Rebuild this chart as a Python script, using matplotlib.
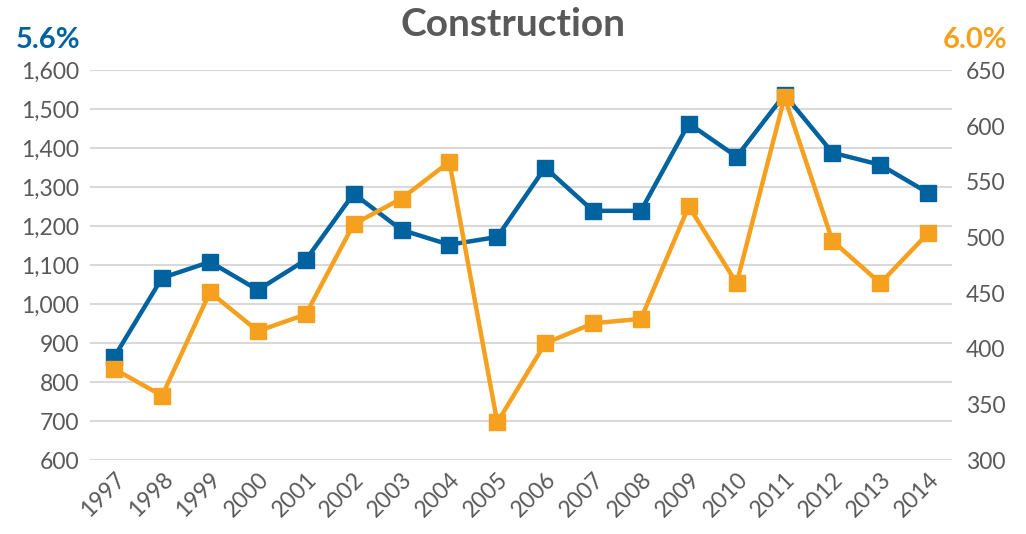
import numpy as np
from matplotlib import pyplot as plt
from matplotlib.ticker import FuncFormatter

plt.rcParams['font.family'] = ['Lato', 'DejaVu Sans']

years = ['1997', '1998', '1999', '2000', '2001', '2002', '2003', '2004', '2005',
         '2006', '2007', '2008', '2009', '2010', '2011', '2012', '2013', '2014']
blue_vals = [865, 1068, 1109, 1037, 1114, 1284, 1191, 1153, 1173,
             1351, 1240, 1240, 1464, 1379, 1538, 1389, 1358, 1286]
orange_vals = [382, 358, 451, 416, 431, 512, 535, 568, 334,
               405, 423, 427, 528, 459, 626, 497, 459, 504]

blue = '#00639f'
orange = '#f5a01e'
grey_txt = '#595959'
line_width = 3.2
msize = 11

fig = plt.figure(figsize=(10.26, 5.34), dpi=100)
ax = fig.add_axes([0.088, 0.138, 0.84, 0.73])
ax2 = ax.twinx()

x = np.arange(len(years))
ax.plot(x, blue_vals, color=blue, linewidth=line_width, marker='s', markersize=msize, zorder=3)
ax2.plot(x, orange_vals, color=orange, linewidth=line_width, marker='s', markersize=msize, zorder=3)

ax.set_ylim(600, 1600)
ax.set_yticks(np.arange(600, 1601, 100))
ax.yaxis.set_major_formatter(FuncFormatter(lambda v, p: f'{int(v):,}'))
ax2.set_ylim(300, 650)
ax2.set_yticks(np.arange(300, 651, 50))
ax.set_xlim(-0.5, len(years) - 0.5)
ax.set_xticks(x)
ax.set_xticklabels(years, rotation=45, ha='right', rotation_mode='anchor')

ax.grid(axis='y', color='#d9d9d9', linewidth=1.5)
ax.set_axisbelow(True)
for a in (ax, ax2):
    for s in a.spines.values():
        s.set_visible(False)
    a.tick_params(length=0, labelsize=16.5, labelcolor=grey_txt)
ax.tick_params(axis='y', pad=8)
ax2.tick_params(axis='y', pad=10)
ax.tick_params(axis='x', pad=6)

fig.text(0.5, 0.955, 'Construction', ha='center', va='center', fontsize=28,
         fontweight='bold', color=grey_txt)
fig.text(0.047, 0.925, '5.6%', ha='center', va='center', fontsize=21,
         fontweight='bold', color=blue)
fig.text(0.95, 0.925, '6.0%', ha='center', va='center', fontsize=21,
         fontweight='bold', color=orange)

plt.savefig('out.png', dpi=100)
